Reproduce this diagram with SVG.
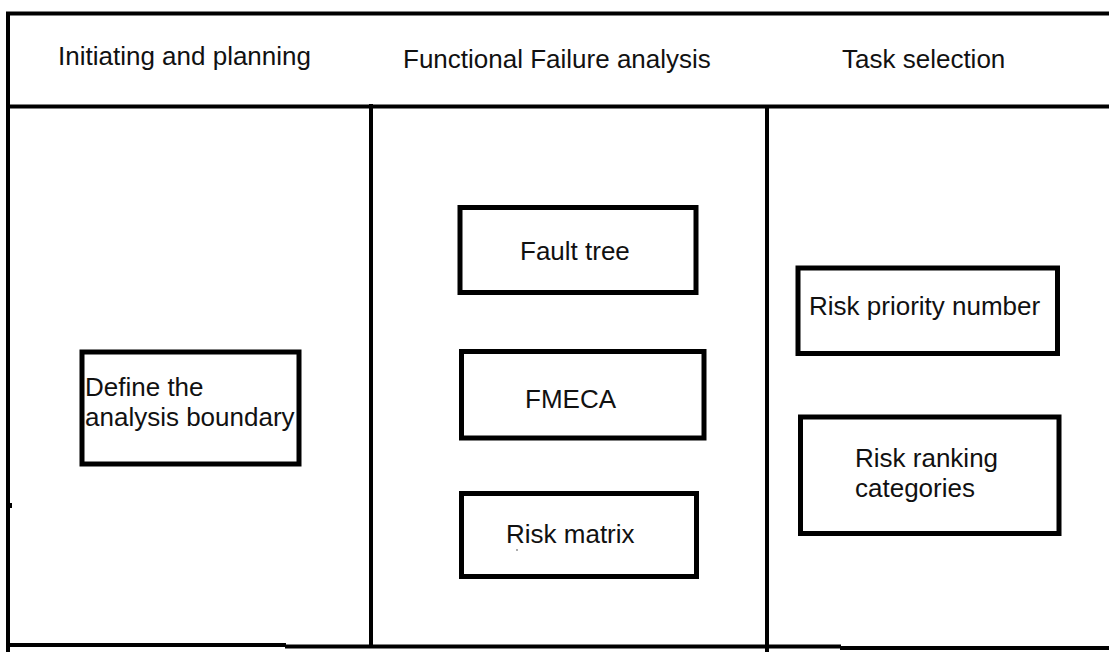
<svg xmlns="http://www.w3.org/2000/svg" width="1109" height="652" viewBox="0 0 1109 652">
  <style>
    .frame { fill: none; stroke: #000; stroke-width: 4; }
    .box { fill: #fff; stroke: #000; stroke-width: 5; }
    .lbl { font-family: "Liberation Sans", Arial, sans-serif; font-size: 26px; fill: #111; }
  </style>
  <rect width="1109" height="652" fill="#fff"/>

  <!-- table frame and column dividers -->
  <g id="frame" class="frame">
    <line x1="8" y1="12" x2="8" y2="652"/>
    <line x1="6" y1="13.5" x2="1109" y2="13.5"/>
    <line x1="6" y1="106.5" x2="1109" y2="106.5"/>
    <line x1="6" y1="645" x2="286" y2="645"/>
    <line x1="285" y1="646.5" x2="841" y2="646.5"/>
    <line x1="840" y1="648" x2="1109" y2="648"/>
    <line x1="371" y1="104" x2="371" y2="647"/>
    <line x1="767" y1="106" x2="767" y2="652"/>
    <rect x="9" y="503" width="3" height="5" fill="#000" stroke="none"/>
  </g>

  <!-- column headers -->
  <g id="headers">
    <text class="lbl" x="58" y="65">Initiating and planning</text>
    <text class="lbl" x="403" y="68">Functional Failure analysis</text>
    <text class="lbl" x="842" y="68">Task selection</text>
  </g>

  <g id="connectors"></g>

  <g id="define-boundary">
    <rect class="box" x="82" y="352" width="217" height="112"/>
    <text class="lbl" x="85" y="396">Define the</text>
    <text class="lbl" x="85" y="426">analysis boundary</text>
  </g>

  <g id="fault-tree">
    <rect class="box" x="460" y="207.5" width="236" height="85"/>
    <text class="lbl" x="520" y="260">Fault tree</text>
  </g>

  <g id="fmeca">
    <rect class="box" x="461.5" y="351.5" width="242.5" height="86.5"/>
    <text class="lbl" x="525" y="408">FMECA</text>
  </g>

  <g id="risk-matrix">
    <rect class="box" x="461.5" y="493.5" width="235" height="83"/>
    <text class="lbl" x="506" y="543">Risk matrix</text>
    <circle cx="517" cy="550" r="0.8" fill="#444"/>
  </g>

  <g id="risk-priority-number">
    <rect class="box" x="798" y="268" width="259.5" height="85.5"/>
    <text class="lbl" x="809" y="315">Risk priority number</text>
  </g>

  <g id="risk-ranking-categories">
    <rect class="box" x="800.5" y="417" width="258.5" height="116.5"/>
    <text class="lbl" x="855" y="467">Risk ranking</text>
    <text class="lbl" x="855" y="497">categories</text>
  </g>
</svg>
